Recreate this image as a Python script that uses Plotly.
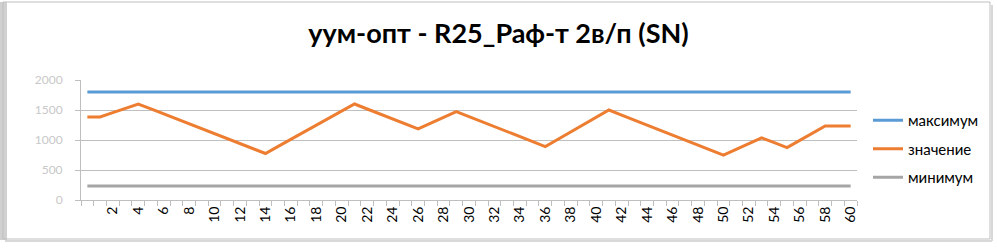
import plotly.graph_objects as go

categories = list(range(0, 61))
maximum = [1800] * 61
minimum = [235] * 61
values = [1385, 1385, 1457, 1528, 1600, 1518, 1435, 1352, 1270, 1188,
          1105, 1022, 940, 858, 775, 893, 1011, 1129, 1246, 1364,
          1482, 1600, 1517, 1434, 1351, 1268, 1185, 1280, 1376, 1472,
          1389, 1306, 1223, 1140, 1057, 974, 891, 1013, 1135, 1256,
          1378, 1500, 1416, 1333, 1249, 1165, 1082, 998, 914, 831,
          747, 843, 939, 1035, 955, 874, 994, 1114, 1234, 1234, 1234]
x_tick_vals = list(range(2, 61, 2))
x_tick_text = [str(v) for v in x_tick_vals]
y_tick_vals = [0, 500, 1000, 1500, 2000]
title_text = "уум-опт - R25_Раф-т 2в/п (SN)"

W, H = 997, 250
L, R, T, B = 81, 140, 80, 50

def px(x):
    return (x - L) / (W - L - R)

def py(y):
    return (H - B - y) / (H - T - B)

fig = go.Figure()
fig.add_trace(go.Scatter(x=categories, y=maximum, mode="lines", name="максимум",
                         line=dict(color="#5B9BD5", width=3), legendgroup="a"))
fig.add_trace(go.Scatter(x=categories, y=values, mode="lines", name="значение",
                         line=dict(color="#ED7D31", width=3), legendgroup="b"))
fig.add_trace(go.Scatter(x=categories, y=minimum, mode="lines", name="минимум",
                         line=dict(color="#A5A5A5", width=3), legendgroup="c"))

fig.update_layout(
    width=W, height=H,
    margin=dict(l=L, r=R, t=T, b=B),
    paper_bgcolor="white", plot_bgcolor="white",
    font=dict(family="Lato, Carlito, sans-serif", color="#404040"),
    title=dict(text="<b>" + title_text + "</b>", x=0.5, xanchor="center",
               y=1 - 34 / H, yanchor="middle", xref="container", yref="container",
               font=dict(size=27, color="#000000")),
    legend=dict(x=px(868), y=py(104), xanchor="left", yanchor="top",
                font=dict(size=15, color="#000000"), tracegroupgap=6,
                bgcolor="rgba(0,0,0,0)"),
    xaxis=dict(range=[-0.5, 60.5], tickmode="array", tickvals=x_tick_vals,
               ticktext=x_tick_text, tickangle=-90, ticks="", showgrid=False,
               showline=True, linecolor="#BFBFBF", linewidth=1, zeroline=False,
               tickfont=dict(size=14, color="#000000"),
               minor=dict(tickmode="linear", tick0=-0.5, dtick=1, ticks="outside",
                          ticklen=5, tickcolor="#BFBFBF", showgrid=False)),
    yaxis=dict(range=[0, 2000], tickmode="array", tickvals=y_tick_vals,
               ticks="outside", ticklen=5, tickcolor="#BFBFBF",
               showgrid=True, gridcolor="#BFBFBF", gridwidth=1,
               showline=True, linecolor="#BFBFBF", zeroline=False,
               tickfont=dict(size=12, color="#C8C8C8"), ticklabelstandoff=10),
    shapes=[
        dict(type="rect", xref="paper", yref="paper",
             x0=px(0), x1=px(7), y0=py(240), y1=py(2),
             line=dict(width=0), fillcolor="#D0D0D0", layer="below"),
        dict(type="rect", xref="paper", yref="paper",
             x0=px(3), x1=px(990), y0=py(239), y1=py(2),
             line=dict(width=1, color="#BFBFBF"), fillcolor="rgba(0,0,0,0)", layer="below"),
        dict(type="line", xref="paper", yref="paper",
             x0=px(5), x1=px(992), y0=py(241), y1=py(241),
             line=dict(width=2, color="#D8D8D8"), layer="below"),
        dict(type="line", xref="paper", yref="paper",
             x0=px(992), x1=px(992), y0=py(241), y1=py(5),
             line=dict(width=2, color="#D8D8D8"), layer="below"),
    ],
)

fig.write_html("out.html")
